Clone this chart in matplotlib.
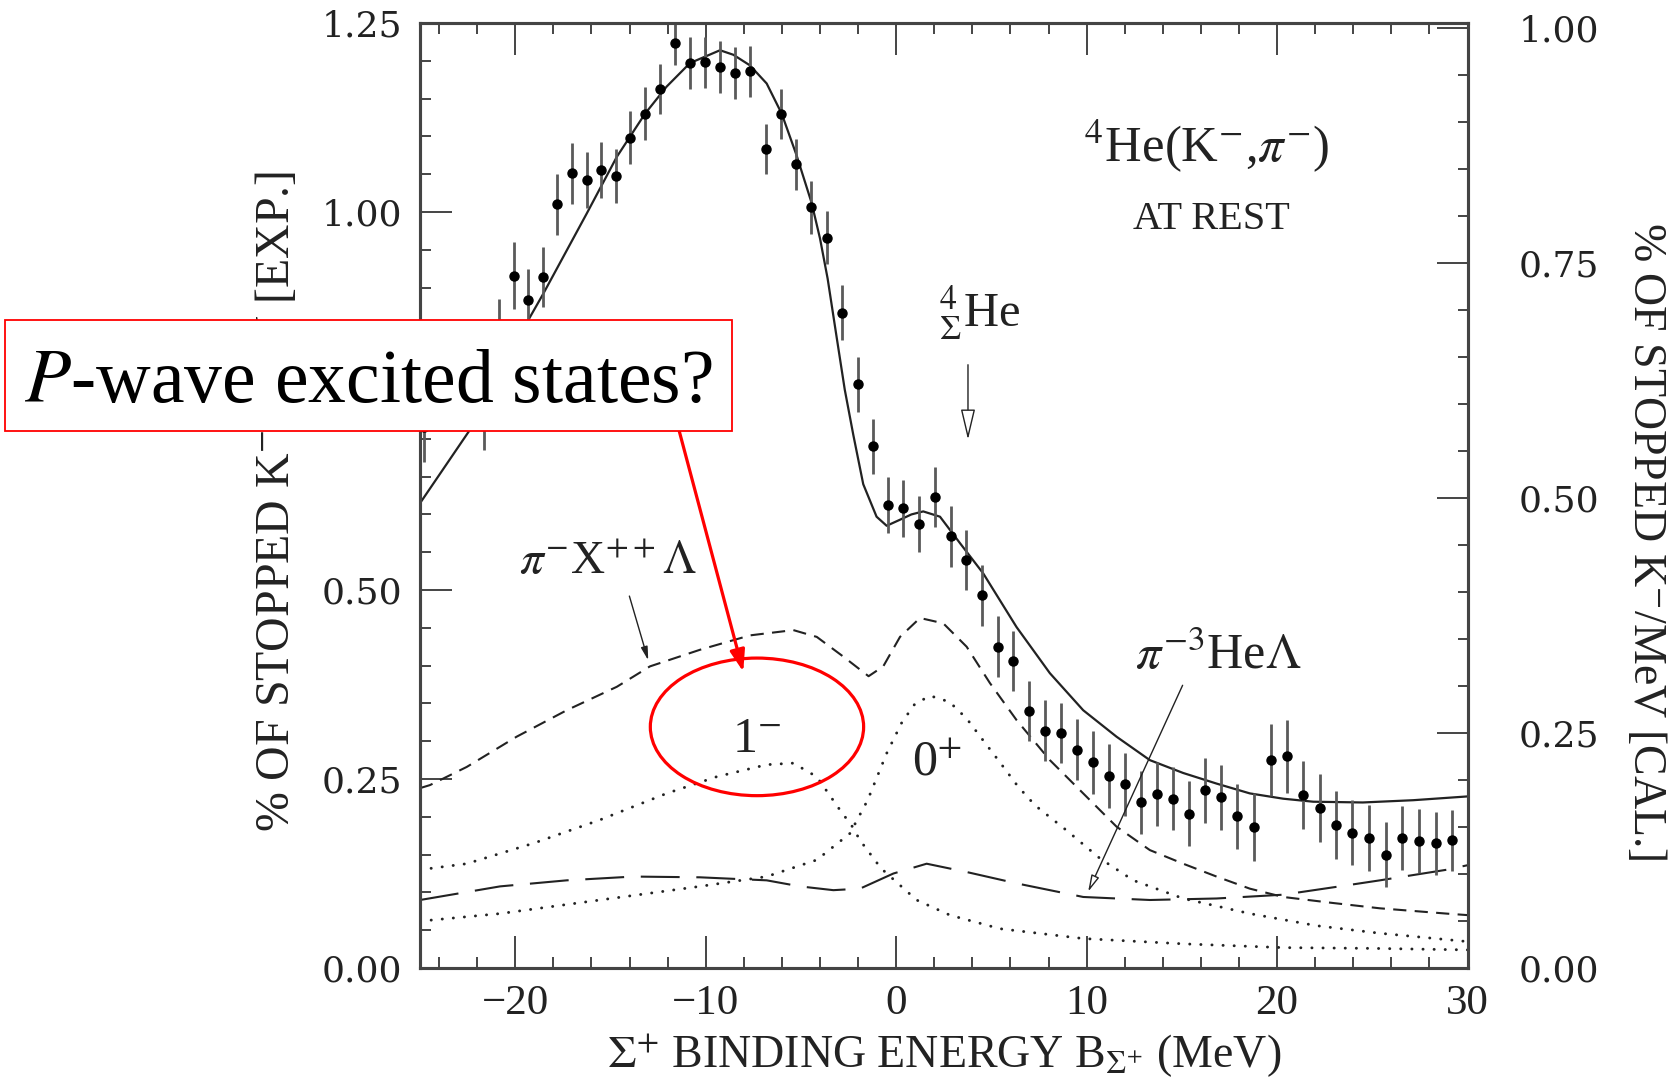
import matplotlib

matplotlib.use("Agg")

import matplotlib.pyplot as plt
from matplotlib.patches import Ellipse, Rectangle
from matplotlib.ticker import FixedLocator, MultipleLocator, FormatStrFormatter

# measured spectrum (binding energy MeV, % of stopped K- / MeV, error)
energy = [-24.79, -21.63, -20.84, -20.05, -19.31, -18.56, -17.79, -17.02, -16.25,
          -15.50, -14.71, -13.98, -13.19, -12.40, -11.63, -10.83, -10.04, -9.25,
          -8.45, -7.68, -6.85, -6.05, -5.26, -4.47, -3.65, -2.83, -2.02, -1.24,
          -0.42, 0.37, 1.21, 2.03, 2.87, 3.66, 4.50, 5.33, 6.15, 6.98, 7.82, 8.63,
          9.47, 10.34, 11.15, 12.00, 12.83, 13.67, 14.51, 15.38, 16.24, 17.08,
          17.92, 18.80, 19.67, 20.51, 21.37, 22.24, 23.12, 23.96, 24.83, 25.74,
          26.58, 27.46, 28.33, 29.21]
yield_exp = [0.715, 0.735, 0.840, 0.916, 0.884, 0.914, 1.010, 1.051, 1.042,
             1.055, 1.048, 1.098, 1.130, 1.163, 1.224, 1.197, 1.198, 1.192,
             1.184, 1.186, 1.083, 1.130, 1.063, 1.006, 0.966, 0.867, 0.772, 0.690,
             0.612, 0.608, 0.587, 0.623, 0.571, 0.540, 0.493, 0.425, 0.406, 0.340,
             0.314, 0.311, 0.289, 0.272, 0.254, 0.243, 0.219, 0.230, 0.224, 0.204,
             0.235, 0.226, 0.201, 0.186, 0.275, 0.280, 0.229, 0.212, 0.189, 0.179,
             0.172, 0.150, 0.172, 0.168, 0.165, 0.169]
yield_err = [0.045, 0.050, 0.045, 0.044, 0.040, 0.040, 0.040, 0.040, 0.037,
             0.037, 0.036, 0.035, 0.035, 0.033, 0.030, 0.034, 0.034, 0.034,
             0.034, 0.034, 0.033, 0.033, 0.034, 0.035, 0.035, 0.036, 0.036, 0.036,
             0.037, 0.038, 0.037, 0.040, 0.040, 0.040, 0.040, 0.040, 0.040, 0.040,
             0.040, 0.040, 0.040, 0.042, 0.042, 0.042, 0.042, 0.042, 0.042, 0.043,
             0.043, 0.043, 0.043, 0.045, 0.048, 0.048, 0.045, 0.045, 0.045, 0.043,
             0.043, 0.043, 0.042, 0.042, 0.042, 0.040]

# calculated curves
total_x = [-25.0, -22.38, -19.23, -18.53, -16.25, -14.67, -13.19, -12.05, -10.83,
           -9.25, -8.55, -7.68, -6.80, -6.01, -5.23, -4.44, -4.0, -3.6, -3.13,
           -2.7, -2.25, -1.73, -1.03, -0.50, 0.2, 0.8, 1.42, 2.30, 3.35, 4.57,
           6.32, 8.07, 9.82, 11.57, 13.32, 15.07, 16.82, 18.57, 20.32, 21.9,
           24.5, 27.15, 30.0]
total_y = [0.615, 0.712, 0.861, 0.892, 0.998, 1.073, 1.130, 1.166, 1.197,
           1.214, 1.208, 1.194, 1.170, 1.130, 1.075, 1.012, 0.965, 0.912, 0.835,
           0.765, 0.705, 0.640, 0.597, 0.585, 0.593, 0.600, 0.604, 0.597, 0.562, 0.522,
           0.451, 0.390, 0.341, 0.306, 0.275, 0.258, 0.244, 0.231, 0.224, 0.220,
           0.219, 0.222, 0.227]

xlam_x = [-25.0, -24.48, -22.55, -19.93, -17.3, -14.67, -12.93, -10.3, -7.68, -5.4,
          -4.17, -2.78, -1.45, -0.68, 0.2, 1.25, 2.47, 3.70, 4.92, 6.32, 8.07,
          9.82, 11.57, 13.32, 15.07, 16.82, 18.57, 20.32, 22.95, 25.4, 28.9, 30.0]
xlam_y = [0.238, 0.242, 0.266, 0.306, 0.341, 0.372, 0.399, 0.421, 0.440, 0.447,
          0.438, 0.412, 0.386, 0.399, 0.438, 0.463, 0.456, 0.425, 0.377, 0.328, 0.275,
          0.231, 0.187, 0.156, 0.138, 0.121, 0.105, 0.094, 0.086, 0.079, 0.072, 0.070]

s1m_x = [-25.0, -22.55, -19.05, -15.55, -12.05, -9.43, -6.8, -5.4, -4.17, -2.95,
         -2.3, -1.9, -0.8, 1.07, 2.82, 5.45, 9.82, 15.07, 20.32, 25.0, 30.0]
s1m_y = [0.130, 0.138, 0.165, 0.196, 0.231, 0.253, 0.269, 0.271, 0.253, 0.209,
         0.187, 0.169, 0.132, 0.090, 0.070, 0.052, 0.039, 0.032, 0.027, 0.026, 0.024]

s0p_x = [-25.0, -20.8, -15.55, -10.3, -6.8, -4.17, -2.43, -1.5, -0.5, 0.3, 1.0,
         1.8, 2.8, 3.7, 4.6, 5.45, 6.4, 7.3, 8.95, 10.7, 12.45, 15.07, 18.57,
         22.07, 25.4, 30.0]
s0p_y = [0.062, 0.072, 0.090, 0.108, 0.121, 0.143, 0.178, 0.222, 0.284, 0.325, 0.350,
         0.360, 0.352, 0.330, 0.300, 0.272, 0.240, 0.215, 0.182, 0.145, 0.116, 0.092,
         0.072, 0.056, 0.046, 0.035]

he3_x = [-25.0, -20.8, -17.3, -13.8, -10.3, -6.8, -5.05, -3.3, -1.9, -0.15, 1.6,
         3.70, 6.32, 9.82, 13.32, 16.82, 20.32, 23.82, 25.4, 28.9, 30.0]
he3_y = [0.090, 0.108, 0.116, 0.121, 0.120, 0.116, 0.108, 0.103, 0.105, 0.125, 0.138,
         0.127, 0.112, 0.094, 0.090, 0.092, 0.097, 0.110, 0.116, 0.130, 0.136]

x_ticks = [-20, -10, 0, 10, 20, 30]
exp_ticks = [0.0, 0.25, 0.5, 0.75, 1.0, 1.25]
cal_ticks = [0.0, 0.25, 0.5, 0.75, 1.0]

plt.rcParams["font.family"] = ["Liberation Serif", "DejaVu Serif"]
plt.rcParams["mathtext.fontset"] = "stix"
plt.rcParams["lines.scale_dashes"] = False

ink = "#222222"
spine_col = "#444444"

fig = plt.figure(figsize=(16.81, 10.81), dpi=100)
ax = fig.add_axes([0.2499, 0.1045, 0.6231, 0.8742])
ax2 = ax.twinx()

ax.set_xlim(-25, 30)
ax.set_ylim(0, 1.25)
ax2.set_ylim(0, 1.0053)

# curves
ax.plot(total_x, total_y, color=ink, lw=1.6)
ax.plot(xlam_x, xlam_y, color=ink, lw=1.5, dashes=(9.5, 6))
ax.plot(he3_x, he3_y, color=ink, lw=1.5, dashes=(28, 12))
for cx, cy in ((s1m_x, s1m_y), (s0p_x, s0p_y)):
    ax.plot(cx, cy, color=ink, lw=2.1, dashes=(0.1, 7.9), dash_capstyle="round")

# data
ax.errorbar(energy, yield_exp, yerr=yield_err, fmt="o", ms=6.5, color="black",
            ecolor="#5a5a5a", elinewidth=2.0, capsize=0, zorder=3)

# axes styling
for a in (ax, ax2):
    for s in a.spines.values():
        s.set_color(spine_col)
        s.set_linewidth(2.2)

ax.xaxis.set_major_locator(FixedLocator(x_ticks))
ax.xaxis.set_minor_locator(MultipleLocator(2))
ax.yaxis.set_major_locator(FixedLocator(exp_ticks))
ax.yaxis.set_minor_locator(MultipleLocator(0.05))
ax.yaxis.set_major_formatter(FormatStrFormatter("%.2f"))
ax2.yaxis.set_major_locator(FixedLocator(cal_ticks))
ax2.yaxis.set_minor_locator(MultipleLocator(0.05))
ax2.yaxis.set_major_formatter(FormatStrFormatter("%.2f"))

ax.tick_params(axis="x", which="both", direction="in", top=True, bottom=True,
               color=spine_col, width=1.4, labelsize=31, labelcolor=ink, pad=12)
ax.tick_params(axis="x", which="major", length=23)
ax.tick_params(axis="x", which="minor", length=8)
ax.tick_params(axis="y", which="both", direction="in", left=True, right=False,
               color=spine_col, width=1.4, labelsize=26, labelcolor=ink, pad=13)
ax.tick_params(axis="y", which="major", length=23)
ax.tick_params(axis="y", which="minor", length=8)
ax2.tick_params(axis="y", which="both", direction="in", right=True, left=False,
                color=spine_col, width=1.4, labelsize=26, labelcolor=ink, pad=37)
ax2.tick_params(axis="y", which="major", length=22)
ax2.tick_params(axis="y", which="minor", length=7)
for lab in ax.get_yticklabels() + ax2.get_yticklabels():
    lab.set_fontfamily("DejaVu Serif")

# axis labels
ax.text(-0.137, 0.494, "% OF STOPPED K$^{-}$/MeV [EXP.]", transform=ax.transAxes,
        rotation=90, ha="center", va="center", fontsize=34.5, color=ink)
ax.text(1.170, 0.452, "% OF STOPPED K$^{-}$/MeV [CAL.]", transform=ax.transAxes,
        rotation=-90, ha="center", va="center", fontsize=33, color=ink)
ax.text(0.5, -0.093, r"$\Sigma^{+}$ BINDING ENERGY B$_{\Sigma^{+}}$ (MeV)",
        transform=ax.transAxes, ha="center", va="center", fontsize=33, color=ink)

# annotations
ax.text(16.33, 1.0666, r"$^{4}$He(K$^{-}$,$\pi^{-}$)", ha="center", va="baseline",
        fontsize=36.5, color=ink)
ax.text(16.56, 0.978, "AT REST", ha="center", va="baseline", fontsize=29, color=ink)
ax.text(4.4, 0.848, r"${}^{4}_{\Sigma}$He", ha="center", va="baseline",
        fontsize=35, color=ink)
ax.annotate("", xy=(3.77, 0.699), xytext=(3.77, 0.798),
            arrowprops=dict(arrowstyle="-|>,head_length=1.9,head_width=0.45",
                            fc="white", ec=ink, lw=1.0, shrinkA=0, shrinkB=0))
ax.text(-15.13, 0.521, r"$\pi^{-}$X$^{++}\Lambda$", ha="center", va="baseline",
        fontsize=34, color=ink)
ax.annotate("", xy=(-13.02, 0.407), xytext=(-14.01, 0.492),
            arrowprops=dict(arrowstyle="-|>,head_length=0.8,head_width=0.2",
                            color=ink, lw=1.0, shrinkA=0, shrinkB=0))
ax.text(16.9, 0.396, r"$\pi^{-3}$He$\Lambda$", ha="center", va="baseline",
        fontsize=36, color=ink)
ax.annotate("", xy=(10.08, 0.101), xytext=(15.04, 0.374),
            arrowprops=dict(arrowstyle="-|>,head_length=1.0,head_width=0.25",
                            fc="white", ec=ink, lw=1.0, shrinkA=0, shrinkB=0))
ax.text(-7.3, 0.286, r"1$^{-}$", ha="center", va="baseline", fontsize=36, color=ink)
ax.text(2.14, 0.255, r"0$^{+}$", ha="center", va="baseline", fontsize=36, color=ink)

# red overlay
ax.add_patch(Ellipse((-7.31, 0.319), 11.2, 0.182, fill=False, ec="red", lw=2.3,
                     zorder=6))
ax.annotate("", xy=(-8.03, 0.392), xytext=(-11.4, 0.711), annotation_clip=False,
            arrowprops=dict(arrowstyle="-|>,head_length=1.3,head_width=0.45",
                            color="red", lw=2.3, shrinkA=0, shrinkB=0), zorder=6)
fig.patches.append(Rectangle((0.0032, 0.6013), 0.4322, 0.1031, transform=fig.transFigure,
                             fc="white", ec="red", lw=1.3, zorder=5))
fig.text(0.2193, 0.628, r"$\mathit{P}$-wave excited states?", ha="center",
         va="baseline", fontsize=54.5, color="black", zorder=6)

fig.savefig("out.png", dpi=100, facecolor="white")
